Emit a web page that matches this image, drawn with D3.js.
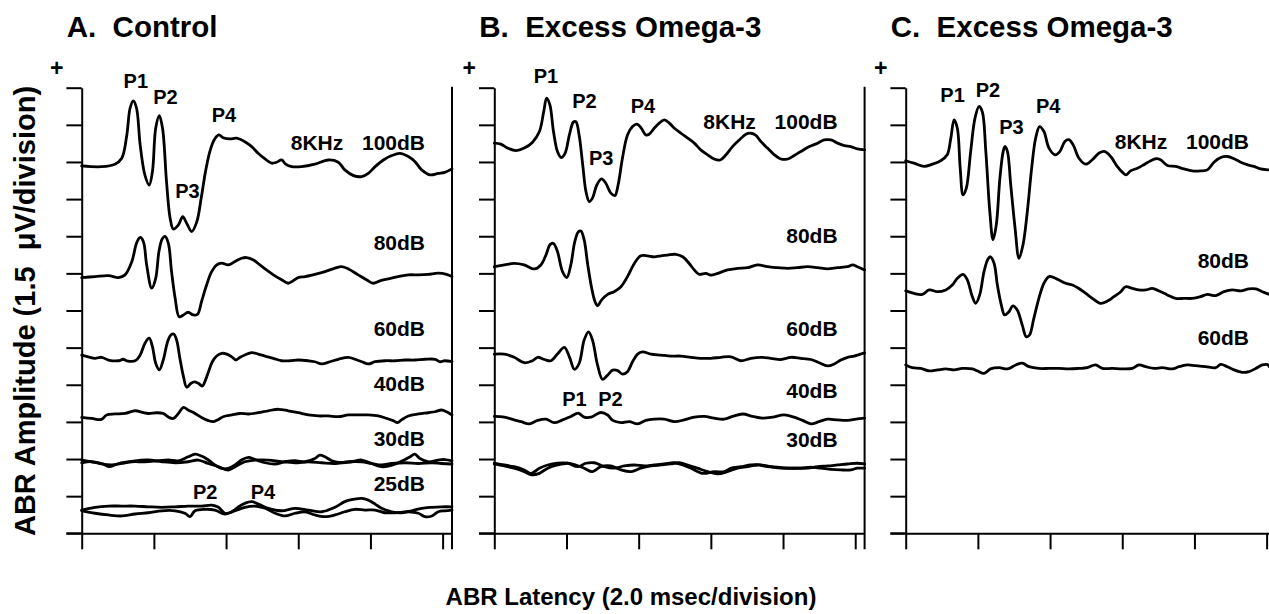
<!DOCTYPE html>
<html>
<head>
<meta charset="utf-8">
<script src="https://cdn.jsdelivr.net/npm/d3@7"></script>
<style>
  html, body { margin: 0; padding: 0; background: #fff; }
  svg { display: block; }
  text { font-family: "Liberation Sans", Arial, Helvetica, sans-serif; font-weight: bold; fill: #000; white-space: pre; }
</style>
</head>
<body>
<svg id="chart" width="1269" height="614"></svg>
<script>
// ABR waveforms: each point is [latency in ms, amplitude in µV relative to the trace baseline].

// A. Control
const ctrl100 = [[0,0],[0.55,-0.03],[0.92,0.07],[1.11,0.31],[1.25,1.25],[1.34,2.33],[1.43,2.63],[1.52,2.33],[1.62,0.85],[1.75,-0.36],[1.87,-0.77],[1.96,-0.23],[2.05,1.52],[2.15,2.03],[2.24,1.52],[2.35,-0.63],[2.45,-2.11],[2.54,-2.55],[2.68,-2.38],[2.80,-2.05],[2.91,-2.32],[3.05,-2.65],[3.19,-2.25],[3.31,-1.31],[3.43,-0.23],[3.55,0.58],[3.67,1.05],[3.80,1.25],[3.92,1.14],[4.11,1.09],[4.29,1.12],[4.52,0.98],[4.71,0.78],[4.89,0.51],[5.08,0.28],[5.26,0.11],[5.40,0.15],[5.54,0.24],[5.65,0.07],[5.82,-0.03],[6.09,-0.03],[6.46,0.07],[6.83,0.24],[7.11,0.15],[7.29,-0.16],[7.53,-0.39],[7.76,-0.43],[7.94,-0.30],[8.13,-0.03],[8.36,0.24],[8.59,0.42],[8.82,0.51],[9.05,0.38],[9.23,0.18],[9.42,-0.16],[9.65,-0.36],[9.88,-0.30],[10.06,-0.26],[10.26,-0.12]];
const ctrl80 = [[0,0],[0.37,0.04],[0.74,0.08],[1.02,0],[1.20,0.11],[1.39,0.65],[1.52,1.39],[1.62,1.62],[1.71,1.45],[1.80,0.51],[1.94,-0.43],[2.05,-0.03],[2.14,1.05],[2.23,1.56],[2.31,1.66],[2.40,1.39],[2.49,0.24],[2.59,-0.84],[2.70,-1.58],[2.82,-1.51],[2.95,-1.40],[3.09,-1.51],[3.21,-1.48],[3.32,-0.97],[3.46,-0.30],[3.60,0.24],[3.74,0.51],[3.88,0.58],[4.06,0.51],[4.25,0.65],[4.43,0.78],[4.57,0.81],[4.76,0.71],[4.94,0.51],[5.12,0.31],[5.31,0.11],[5.54,-0.09],[5.72,-0.23],[5.86,-0.13],[6.00,0],[6.19,0.04],[6.46,0.13],[6.74,0.24],[7.02,0.38],[7.20,0.44],[7.39,0.35],[7.66,0.11],[7.89,-0.09],[8.08,-0.23],[8.26,-0.13],[8.49,-0.05],[8.77,0.04],[9.05,0.11],[9.33,0.11],[9.60,0.13],[9.88,0.18],[10.11,0.13],[10.26,0.04]];
const ctrl60 = [[0,0.20],[0.18,0.13],[0.37,0.07],[0.55,0.11],[0.74,0],[1.02,-0.03],[1.15,0.03],[1.25,-0.03],[1.48,-0.03],[1.62,0.20],[1.75,0.67],[1.87,0.88],[1.96,0.54],[2.05,-0.13],[2.15,-0.40],[2.26,0],[2.38,0.74],[2.47,1.01],[2.55,1.05],[2.63,0.81],[2.72,0.07],[2.82,-0.67],[2.91,-1.10],[3.03,-0.94],[3.12,-0.88],[3.23,-0.94],[3.34,-1.05],[3.43,-0.81],[3.53,-0.40],[3.62,-0.07],[3.74,0.16],[3.88,0.27],[4.02,0.24],[4.16,0.13],[4.27,0],[4.39,0.11],[4.52,0.20],[4.71,0.30],[4.89,0.24],[5.08,0.16],[5.31,0.07],[5.54,-0.03],[5.77,-0.03],[6.00,0],[6.28,-0.03],[6.46,-0.07],[6.65,-0.16],[6.88,-0.07],[7.11,0.03],[7.39,0.11],[7.57,0.03],[7.76,-0.07],[7.94,-0.16],[8.13,-0.07],[8.40,-0.03],[8.68,-0.03],[8.96,0],[9.23,0],[9.51,0.03],[9.79,0.03],[9.93,-0.07],[10.06,-0.03],[10.26,-0.07]];
const ctrl40 = [[0,-0.03],[0.28,-0.07],[0.55,-0.11],[0.69,0.07],[0.92,0.11],[1.20,0.13],[1.48,0.24],[1.71,0.16],[1.85,0.13],[2.08,0.16],[2.26,0.13],[2.42,-0.03],[2.54,-0.07],[2.68,0.13],[2.82,0.38],[2.95,0.27],[3.14,0.13],[3.32,-0.03],[3.51,-0.16],[3.65,-0.20],[3.79,-0.11],[3.92,0],[4.16,0.07],[4.39,0.13],[4.62,0.11],[4.89,0.16],[5.17,0.24],[5.45,0.30],[5.72,0.24],[6.00,0.16],[6.28,0.07],[6.56,0.03],[6.83,0.03],[7.11,0],[7.39,0.07],[7.66,0.07],[7.94,0.07],[8.22,0.03],[8.45,-0.07],[8.63,-0.16],[8.75,-0.24],[8.86,-0.13],[9.05,0.03],[9.33,0.11],[9.60,0.16],[9.79,0.20],[9.97,0.27],[10.11,0.20],[10.26,0.07]];
const ctrl30a = [[0,0.07],[0.28,0],[0.55,-0.07],[0.78,-0.20],[1.02,-0.07],[1.39,0],[1.75,0],[2.12,0.04],[2.40,0.07],[2.68,0.04],[2.95,0.20],[3.14,0.31],[3.32,0.23],[3.51,0.07],[3.69,-0.13],[3.88,-0.27],[4.06,-0.27],[4.25,-0.13],[4.43,0.07],[4.62,0.18],[4.80,0.09],[5.08,-0.04],[5.36,-0.09],[5.63,0],[5.91,0.04],[6.19,0],[6.46,0.13],[6.60,0.27],[6.74,0.20],[6.93,0.04],[7.20,-0.04],[7.48,0],[7.76,0.07],[8.03,-0.07],[8.31,-0.20],[8.49,-0.18],[8.73,-0.07],[8.96,0.09],[9.10,0.20],[9.23,0.31],[9.37,0.13],[9.60,0],[9.88,0.07],[10.06,0.09],[10.26,0.04]];
const ctrl30b = [[0,-0.04],[0.28,0],[0.55,-0.09],[0.83,-0.13],[1.11,-0.07],[1.48,0.04],[1.85,0.07],[2.22,0],[2.59,-0.04],[2.95,0],[3.23,0.07],[3.51,-0.07],[3.79,-0.20],[4.06,-0.34],[4.25,-0.20],[4.52,0],[4.80,0.07],[5.17,0.07],[5.54,0],[5.91,-0.04],[6.28,0],[6.65,-0.04],[7.02,-0.07],[7.39,0],[7.76,0],[8.03,-0.07],[8.31,-0.13],[8.59,-0.07],[8.96,-0.04],[9.33,-0.07],[9.70,-0.04],[9.97,-0.07],[10.26,-0.09]];
const ctrl25a = [[0,0],[0.37,0.11],[0.74,0.16],[1.11,0.16],[1.48,0.16],[1.85,0.13],[2.22,0.11],[2.59,0.13],[2.95,0.16],[3.32,0.16],[3.60,0.20],[3.79,0.11],[3.97,-0.13],[4.16,-0.07],[4.34,0.13],[4.52,0.27],[4.71,0.34],[4.89,0.24],[5.17,0.07],[5.54,-0.03],[5.91,0.07],[6.28,0],[6.65,-0.07],[7.02,0.11],[7.29,0.34],[7.53,0.43],[7.76,0.47],[7.94,0.40],[8.13,0.24],[8.31,0.07],[8.59,-0.07],[8.86,-0.11],[9.14,-0.03],[9.42,0.07],[9.70,0.11],[9.97,0.13],[10.26,0.13]];
const ctrl25b = [[0,-0.03],[0.37,-0.13],[0.74,-0.20],[1.11,-0.24],[1.48,-0.16],[1.85,-0.11],[2.22,-0.03],[2.59,-0.03],[2.86,-0.13],[3.00,-0.27],[3.14,-0.03],[3.42,0.03],[3.69,0],[3.97,-0.16],[4.25,-0.03],[4.52,0.11],[4.80,0.16],[5.08,0.07],[5.36,-0.13],[5.63,-0.24],[5.91,-0.13],[6.19,-0.07],[6.46,-0.20],[6.74,-0.27],[7.02,-0.20],[7.29,-0.07],[7.57,0.03],[7.85,0],[8.13,0],[8.40,-0.11],[8.68,-0.11],[9.05,-0.07],[9.33,-0.13],[9.51,-0.27],[9.70,-0.24],[9.88,-0.07],[10.06,-0.03],[10.26,0]];

// B. Excess Omega-3
const omB100 = [[0,0.07],[0.18,0.03],[0.37,-0.13],[0.60,-0.23],[0.83,-0.13],[1.06,0.11],[1.25,0.54],[1.37,1.35],[1.45,1.89],[1.54,1.62],[1.64,0.54],[1.75,-0.27],[1.85,-0.51],[1.96,-0.34],[2.08,0.40],[2.19,0.92],[2.26,0.94],[2.35,0.40],[2.45,-0.81],[2.54,-1.89],[2.63,-2.29],[2.72,-2.15],[2.84,-1.62],[2.97,-1.37],[3.09,-1.55],[3.23,-1.95],[3.34,-2.05],[3.43,-1.62],[3.55,-0.54],[3.69,0.40],[3.83,0.74],[3.95,0.84],[4.06,0.70],[4.20,0.40],[4.29,0.43],[4.43,0.67],[4.57,0.88],[4.71,1.01],[4.85,0.88],[4.99,0.67],[5.17,0.47],[5.36,0.27],[5.54,0.07],[5.72,-0.20],[5.91,-0.40],[6.09,-0.57],[6.26,-0.61],[6.42,-0.40],[6.60,-0.07],[6.79,0.20],[6.97,0.43],[7.11,0.47],[7.25,0.38],[7.39,0.13],[7.57,-0.13],[7.76,-0.40],[7.94,-0.57],[8.13,-0.57],[8.31,-0.43],[8.49,-0.27],[8.73,-0.07],[8.96,0.07],[9.14,0.20],[9.33,0.20],[9.51,0.07],[9.70,-0.03],[9.88,-0.07],[10.06,-0.16],[10.26,-0.20]];
const omB80 = [[0,0],[0.28,0.07],[0.55,0.13],[0.83,0.07],[1.11,-0.09],[1.29,0.07],[1.43,0.47],[1.55,0.90],[1.64,0.94],[1.75,0.61],[1.89,-0.20],[2.01,-0.44],[2.12,0.07],[2.23,1.01],[2.33,1.41],[2.40,1.44],[2.49,1.08],[2.59,0.07],[2.70,-0.88],[2.79,-1.41],[2.86,-1.58],[2.97,-1.35],[3.14,-1.12],[3.32,-1.01],[3.51,-0.81],[3.69,-0.40],[3.88,0.13],[4.06,0.44],[4.25,0.44],[4.43,0.40],[4.62,0.44],[4.80,0.47],[5.03,0.50],[5.22,0.40],[5.40,0.13],[5.54,-0.13],[5.68,-0.31],[5.86,-0.27],[6.00,-0.34],[6.19,-0.27],[6.46,-0.13],[6.74,-0.07],[7.02,-0.04],[7.29,0.07],[7.57,0],[7.85,-0.04],[8.13,-0.07],[8.40,-0.04],[8.68,0],[8.96,-0.04],[9.23,-0.09],[9.51,-0.04],[9.79,0],[9.93,0.07],[10.06,0],[10.26,-0.13]];
const omB60 = [[0,0.04],[0.28,0.04],[0.55,-0.09],[0.83,-0.31],[1.06,-0.23],[1.20,-0.09],[1.39,-0.18],[1.57,-0.23],[1.75,0.04],[1.94,0.31],[2.08,-0.07],[2.22,-0.58],[2.35,-0.34],[2.49,0.61],[2.61,0.94],[2.72,0.61],[2.86,-0.40],[3.00,-0.98],[3.14,-0.81],[3.28,-0.61],[3.42,-0.63],[3.55,-0.77],[3.69,-0.67],[3.83,-0.27],[3.97,0.04],[4.11,0.13],[4.34,0.04],[4.62,0],[4.89,-0.04],[5.17,-0.04],[5.45,-0.09],[5.72,-0.13],[6.00,-0.13],[6.28,-0.09],[6.56,-0.07],[6.83,-0.23],[7.11,-0.13],[7.39,-0.09],[7.66,-0.13],[7.94,-0.18],[8.22,-0.09],[8.49,-0.13],[8.77,-0.18],[9.00,-0.31],[9.23,-0.44],[9.42,-0.36],[9.60,-0.20],[9.79,-0.09],[9.97,-0.04],[10.26,0.09]];
const omB40 = [[0,0.03],[0.28,0],[0.55,-0.11],[0.74,-0.18],[0.97,-0.27],[1.20,-0.13],[1.43,-0.08],[1.66,-0.22],[1.89,-0.11],[2.12,0.03],[2.33,0.16],[2.49,0],[2.68,0],[2.95,0.19],[3.14,0.09],[3.28,-0.13],[3.51,-0.22],[3.74,-0.18],[3.97,-0.27],[4.20,-0.13],[4.43,-0.08],[4.71,-0.08],[4.99,-0.18],[5.26,-0.11],[5.54,0],[5.82,0.03],[6.09,-0.04],[6.37,-0.08],[6.60,0.03],[6.88,0.13],[7.16,0.03],[7.43,-0.04],[7.71,0],[8.03,0.09],[8.31,0],[8.54,-0.13],[8.77,-0.27],[9.00,-0.18],[9.23,-0.08],[9.51,-0.11],[9.79,-0.13],[10.02,-0.08],[10.26,-0.04]];
const omB30a = [[0,0.07],[0.28,0],[0.55,-0.07],[0.83,-0.20],[1.02,-0.34],[1.25,-0.13],[1.48,0],[1.75,0.07],[2.03,0.07],[2.31,-0.07],[2.54,0.07],[2.77,0.09],[3.05,-0.07],[3.32,-0.13],[3.60,-0.04],[3.88,0],[4.16,-0.04],[4.43,0],[4.71,0.04],[4.99,0.09],[5.22,0],[5.45,-0.13],[5.77,-0.34],[6.09,-0.27],[6.37,-0.27],[6.56,-0.13],[6.83,-0.07],[7.11,0],[7.39,0],[7.66,-0.07],[7.94,-0.13],[8.22,-0.13],[8.49,-0.13],[8.77,-0.09],[9.05,-0.13],[9.33,-0.18],[9.60,-0.20],[9.88,-0.20],[10.06,-0.13],[10.26,-0.13]];
const omB30b = [[0,0.04],[0.28,-0.04],[0.55,-0.13],[0.83,-0.27],[1.02,-0.40],[1.25,-0.34],[1.48,-0.13],[1.75,0],[2.03,0.07],[2.26,0],[2.49,-0.13],[2.72,-0.27],[2.95,-0.07],[3.23,-0.04],[3.51,-0.20],[3.79,-0.27],[4.06,-0.13],[4.34,-0.04],[4.62,0],[4.89,0.04],[5.12,0.09],[5.36,0],[5.63,-0.13],[5.91,-0.27],[6.19,-0.36],[6.46,-0.27],[6.74,-0.13],[7.02,-0.07],[7.29,0],[7.57,-0.07],[7.85,-0.09],[8.13,-0.13],[8.40,-0.13],[8.68,-0.13],[8.96,-0.07],[9.23,-0.04],[9.51,0],[9.79,0.04],[10.06,0.07],[10.26,0.04]];

// C. Excess Omega-3
const omC100 = [[0,0.03],[0.23,-0.07],[0.51,-0.20],[0.74,-0.11],[0.97,0.03],[1.15,0.27],[1.25,0.94],[1.34,1.68],[1.43,1.35],[1.51,-0.27],[1.59,-1.35],[1.68,-1.08],[1.80,0.40],[1.92,1.75],[2.03,2.22],[2.12,2.02],[2.22,0.40],[2.33,-2.02],[2.42,-3.16],[2.51,-2.56],[2.61,-0.67],[2.70,0.40],[2.75,0.61],[2.82,0.40],[2.91,-0.94],[3.03,-2.69],[3.14,-3.91],[3.25,-3.37],[3.37,-2.02],[3.49,-0.27],[3.60,0.94],[3.71,1.41],[3.83,1.21],[3.97,0.54],[4.14,0.27],[4.27,0.40],[4.41,0.81],[4.52,0.88],[4.64,0.67],[4.80,0.13],[4.99,-0.11],[5.17,0.07],[5.36,0.34],[5.52,0.40],[5.68,0.20],[5.86,-0.20],[6.00,-0.43],[6.11,-0.54],[6.23,-0.38],[6.42,-0.27],[6.60,-0.13],[6.79,0.03],[6.93,0.11],[7.06,0.07],[7.25,-0.16],[7.48,-0.20],[7.71,-0.30],[7.94,-0.38],[8.17,-0.38],[8.36,-0.34],[8.54,-0.03],[8.73,0.16],[8.91,0.20],[9.10,0.11],[9.28,-0.03],[9.46,-0.13],[9.65,-0.20],[9.83,-0.30],[10.06,-0.34],[10.26,-0.38]];
const omC80 = [[0,0.03],[0.23,-0.07],[0.46,-0.11],[0.65,0.07],[0.88,0],[1.11,0.07],[1.29,0.27],[1.43,0.54],[1.59,0.70],[1.71,0.47],[1.83,-0.13],[1.94,-0.47],[2.05,-0.13],[2.17,0.81],[2.28,1.32],[2.35,1.41],[2.45,1.14],[2.54,0.27],[2.65,-0.54],[2.74,-0.94],[2.86,-0.81],[2.97,-0.57],[3.09,-0.74],[3.23,-1.35],[3.34,-1.82],[3.43,-1.75],[3.55,-1.08],[3.69,-0.27],[3.83,0.34],[3.97,0.61],[4.11,0.57],[4.25,0.47],[4.43,0.34],[4.62,0.27],[4.80,0.13],[4.99,-0.07],[5.17,-0.27],[5.40,-0.47],[5.59,-0.38],[5.77,-0.20],[5.96,0],[6.09,0.20],[6.28,0.13],[6.46,0.07],[6.65,0.07],[6.83,0.13],[7.02,0.03],[7.25,-0.13],[7.48,-0.27],[7.71,-0.27],[7.94,-0.27],[8.17,-0.20],[8.36,-0.11],[8.59,-0.16],[8.82,0],[9.05,0.07],[9.28,0.03],[9.51,0.11],[9.70,0.11],[9.88,0],[10.08,-0.11],[10.26,-0.16]];
const omC60 = [[0,0.11],[0.18,0],[0.42,-0.03],[0.65,-0.13],[0.88,-0.09],[1.11,-0.05],[1.34,-0.09],[1.57,-0.03],[1.85,-0.05],[1.99,-0.13],[2.17,-0.23],[2.35,-0.05],[2.59,0],[2.82,-0.05],[3.05,0.11],[3.23,0.18],[3.42,0.04],[3.69,-0.03],[3.97,-0.03],[4.25,-0.03],[4.52,-0.05],[4.80,-0.03],[5.03,0],[5.26,0.11],[5.45,-0.03],[5.72,-0.03],[6.00,-0.05],[6.28,-0.03],[6.46,0.11],[6.65,0.04],[6.88,-0.03],[7.11,0],[7.39,-0.05],[7.57,0.04],[7.80,0.11],[8.03,0.08],[8.31,0.04],[8.59,0],[8.73,0.13],[8.91,0.04],[9.10,-0.09],[9.33,-0.19],[9.51,-0.16],[9.70,-0.03],[9.88,0.11],[10.02,0.13],[10.08,0.04],[10.26,0]];

// Traces per panel, the display baseline (µV above the bottom axis) of each, and the annotations
const panelTitles = ["A.  Control", "B.  Excess Omega-3", "C.  Excess Omega-3"];
const panelTraces = [
  [ctrl100, ctrl80, ctrl60, ctrl40, ctrl30a, ctrl30b, ctrl25a, ctrl25b],
  [omB100, omB80, omB60, omB40, omB30a, omB30b],
  [omC100, omC80, omC60]
];
const panelBaselines = [
  [14.84, 10.33, 7.00, 4.71, 2.89, 2.89, 0.94, 0.94],
  [15.69, 10.77, 7.20, 4.69, 2.76, 2.76],
  [15.02, 9.76, 6.69]
];
const levelLabels = [
  ["100dB", "80dB", "60dB", "40dB", "30dB", "25dB"],
  ["100dB", "80dB", "60dB", "40dB", "30dB"],
  ["100dB", "80dB", "60dB"]
];
const levelLabelAt = [
  [15.49, 11.45, 7.98, 5.76, 3.53, 1.71],
  [16.32, 11.72, 7.97, 5.45, 3.50],
  [15.53, 10.71, 7.61]
];
const peakLabels = [
  [["P1", 1.50, 17.99], ["P2", 2.32, 17.35], ["P3", 2.93, 13.55], ["P4", 3.94, 16.63], ["P2", 3.42, 1.37], ["P4", 5.02, 1.37]],
  [["P1", 1.43, 18.18], ["P2", 2.50, 17.17], ["P3", 2.96, 14.88], ["P4", 4.12, 16.97], ["P1", 2.22, 5.14], ["P2", 3.22, 5.14]],
  [["P1", 1.30, 17.44], ["P2", 2.28, 17.64], ["P3", 2.93, 16.13], ["P4", 3.95, 16.97]]
];
const stimulusLabel = "8KHz";
const latencyTicks = [0, 2, 4, 6, 8, 10];
const amplitudeTicks = [0, 1.5, 3, 4.5, 6, 7.5, 9, 10.5, 12, 13.5, 15, 16.5, 18];

// Layout
const svg = d3.select("#chart");
const panelLeft = [81.7, 494.3, 905.7];
const panelWidth = 370.3;
const plotTop = 87.7, plotBottom = 533.3;
const x = d3.scaleLinear().domain([0, 10.26]).range([0, panelWidth]);
const y = d3.scaleLinear().domain([0, 18]).range([plotBottom, plotTop]);

const line = d3.line()
  .x(d => x(d[0]))
  .y(d => y(d[1]))
  .curve(d3.curveCatmullRom.alpha(0.5));

panelTitles.forEach((title, p) => {
  const g = svg.append("g").attr("transform", `translate(${panelLeft[p]},0)`);

  // Title and polarity marker
  g.append("text").attr("x", -15).attr("y", 37).attr("font-size", 29.5).text(title);
  g.append("text").attr("x", -25).attr("y", 76).attr("font-size", 23)
    .attr("text-anchor", "middle").text("+");

  // Amplitude axis (left) with division ticks
  const yAxis = d3.axisLeft(y).tickValues(amplitudeTicks).tickSize(15.3).tickSizeOuter(0).tickFormat("");
  const ya = g.append("g").call(yAxis);
  ya.selectAll("path, line").attr("stroke", "#000").attr("stroke-width", 2);

  // Latency axis (bottom) with division ticks
  const xAxis = d3.axisBottom(x).tickValues(latencyTicks).tickSize(16).tickSizeOuter(0).tickFormat("");
  const xa = g.append("g").attr("transform", `translate(0,${plotBottom})`).call(xAxis);
  xa.selectAll("path, line").attr("stroke", "#000").attr("stroke-width", 2);
  // bottom line continues left under the amplitude ticks
  g.append("line").attr("x1", -15.3).attr("x2", 0).attr("y1", plotBottom).attr("y2", plotBottom)
    .attr("stroke", "#000").attr("stroke-width", 2);

  // Right frame edge
  g.append("line").attr("x1", x(10.26)).attr("x2", x(10.26))
    .attr("y1", plotTop - 1).attr("y2", plotBottom + 16)
    .attr("stroke", "#000").attr("stroke-width", 2);

  // Waveforms
  panelTraces[p].forEach((trace, i) => {
    const base = panelBaselines[p][i];
    g.append("path")
      .datum(trace.map(d => [d[0], d[1] + base]))
      .attr("d", line)
      .attr("fill", "none")
      .attr("stroke", "#000")
      .attr("stroke-width", 2.8)
      .attr("stroke-linejoin", "round")
      .attr("stroke-linecap", "round");
  });

  // Stimulus level labels
  levelLabels[p].forEach((lab, i) => {
    g.append("text").attr("x", panelWidth - 27).attr("y", y(levelLabelAt[p][i]))
      .attr("font-size", 21).attr("text-anchor", "end").text(lab);
  });
  g.append("text").attr("x", 209).attr("y", y(levelLabelAt[p][0]))
    .attr("font-size", 21).text(stimulusLabel);

  // Peak labels
  peakLabels[p].forEach(([lab, t, v]) => {
    g.append("text").attr("x", x(t)).attr("y", y(v))
      .attr("font-size", 20).attr("text-anchor", "middle").text(lab);
  });
});

// Axis titles
svg.append("text")
  .attr("transform", "translate(35,311) rotate(-90)")
  .attr("text-anchor", "middle").attr("font-size", 29)
  .text("ABR Amplitude (1.5  \u03BCV/division)");
svg.append("text")
  .attr("x", 631).attr("y", 605)
  .attr("text-anchor", "middle").attr("font-size", 24)
  .text("ABR Latency (2.0 msec/division)");
</script>
</body>
</html>
